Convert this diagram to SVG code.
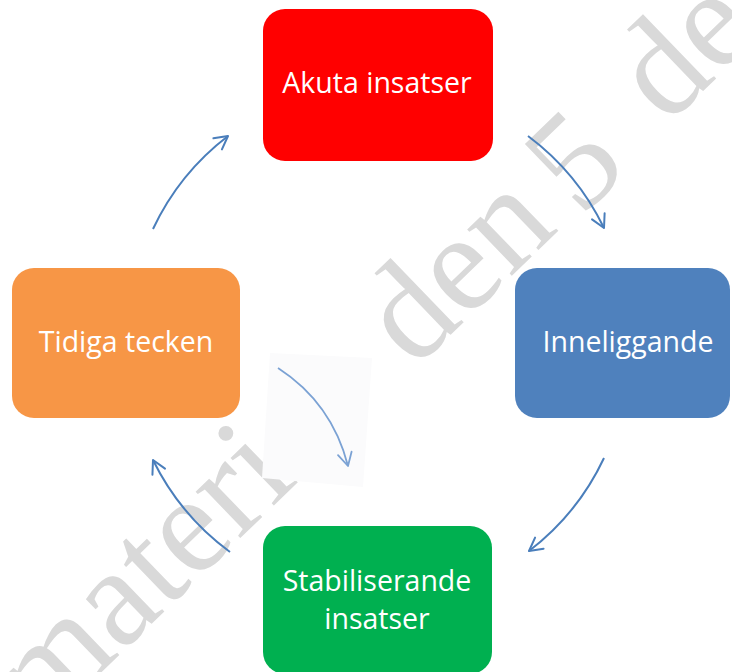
<svg xmlns="http://www.w3.org/2000/svg" width="732" height="672" viewBox="0 0 732 672">
  <style>
    .wm { font-family: "Liberation Serif", "Times New Roman", serif; font-size: 140px; fill: #d9d9d9; }
    .lbl { font-family: "Open Sans", "Noto Sans", "Liberation Sans", sans-serif; font-size: 28.5px; fill: #ffffff; text-anchor: middle; }
    .conn { fill: none; stroke: #4a7ebb; stroke-width: 2; marker-end: url(#ah); }
    .conn-light { fill: none; stroke: #7ba2d4; stroke-width: 1.8; marker-end: url(#ah2); }
  </style>
  <defs>
    <marker id="ah" markerUnits="userSpaceOnUse" viewBox="-16 -10 20 20" markerWidth="20" markerHeight="20" refX="0" refY="0" orient="auto">
      <path d="M-13,-7 L0,0 L-13,7" fill="none" stroke="#4a7ebb" stroke-width="2" stroke-linecap="round" stroke-linejoin="round"/>
    </marker>
    <marker id="ah2" markerUnits="userSpaceOnUse" viewBox="-16 -10 20 20" markerWidth="20" markerHeight="20" refX="0" refY="0" orient="auto">
      <path d="M-13,-7 L0,0 L-13,7" fill="none" stroke="#7ba2d4" stroke-width="1.8" stroke-linecap="round" stroke-linejoin="round"/>
    </marker>
  </defs>
  <rect x="0" y="0" width="732" height="672" fill="#ffffff"/>

  <g id="watermark" transform="translate(57,715) rotate(-44)">
    <text class="wm" x="-20" y="0">materi</text>
    <text class="wm" x="497" y="0">den</text>
    <text class="wm" x="722" y="6">5</text>
    <text class="wm" x="848" y="0">de</text>
  </g>

  <polygon id="patch" points="270,353 372,358 363,487 262,478" fill="#fbfbfc"/>

  <g id="connectors">
    <path class="conn" d="M153,229 A252,252 0 0 1 228,136"/>
    <path class="conn" d="M528,136 A252,252 0 0 1 604,228"/>
    <path class="conn" d="M604,458 A252,252 0 0 1 529,551"/>
    <path class="conn" d="M230,552 A252,252 0 0 1 153,460"/>
    <path class="conn-light" d="M278,368 Q332,403 348,466"/>
  </g>

  <g id="node-akuta">
    <rect x="263" y="9" width="230" height="152" rx="22" fill="#ff0000"/>
    <text class="lbl" x="377" y="93">Akuta insatser</text>
  </g>
  <g id="node-inneliggande">
    <rect x="515" y="268" width="215" height="150" rx="22" fill="#4f81bd"/>
    <text class="lbl" x="628" y="352">Inneliggande</text>
  </g>
  <g id="node-stabiliserande">
    <rect x="263" y="526" width="229" height="148" rx="22" fill="#00b050"/>
    <text class="lbl" x="377" y="591">Stabiliserande</text>
    <text class="lbl" x="377" y="629">insatser</text>
  </g>
  <g id="node-tidiga">
    <rect x="12" y="268" width="228" height="150" rx="22" fill="#f79646"/>
    <text class="lbl" x="126" y="352">Tidiga tecken</text>
  </g>
</svg>
